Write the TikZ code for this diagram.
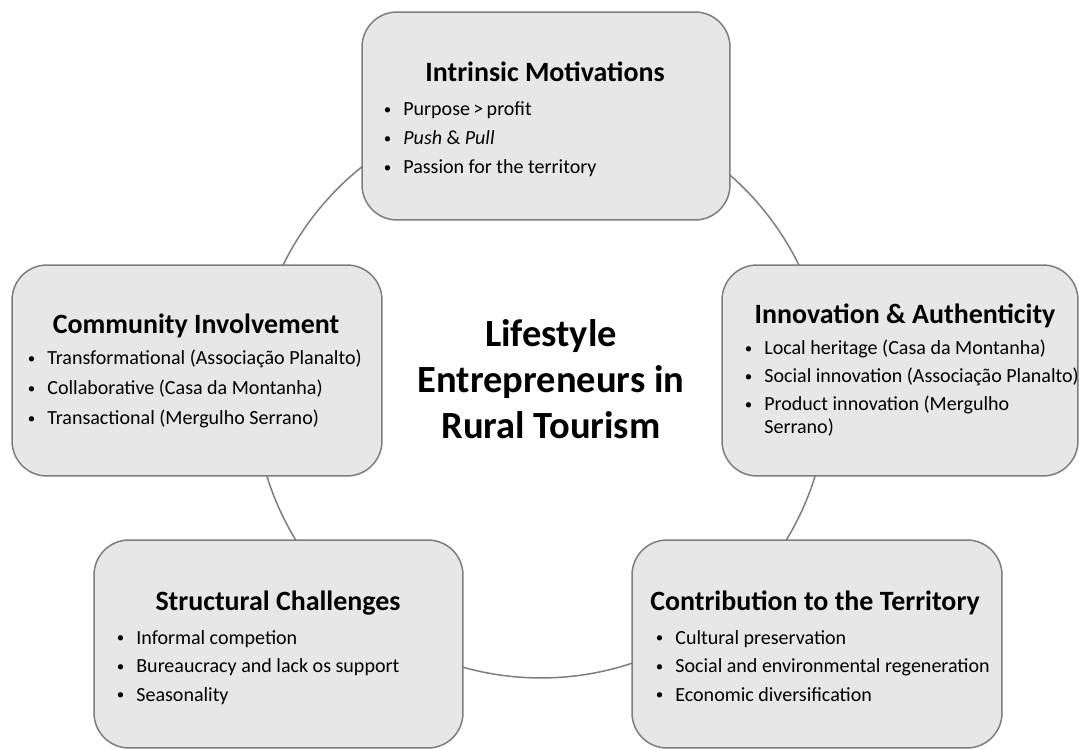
\documentclass[tikz,border=0pt]{standalone}
\usepackage{fontspec}
\setmainfont{Carlito}
\usetikzlibrary{positioning}

\definecolor{panelfill}{RGB}{231,231,231}
\definecolor{paneledge}{RGB}{125,125,125}

% small bullet set in front of each list line
\newcommand{\dotmark}{\llap{\raisebox{0.9pt}{\fontsize{8.5}{8.5}\selectfont\textbullet}\hspace{0.24cm}}}

\begin{document}
\begin{tikzpicture}[
  x=0.02cm, y=-0.02cm,    % 1 unit = 1 px, y downwards
  panel/.style={draw=paneledge, fill=panelfill, line width=0.85pt,
                rounded corners=0.7cm, inner sep=0pt},
  heading/.style={anchor=base, inner sep=0pt, font=\fontsize{15.9}{19}\selectfont\bfseries},
  item/.style={anchor=base west, inner sep=0pt, font=\fontsize{11.4}{13.5}\selectfont},
  hub/.style={align=center, inner sep=0pt, font=\fontsize{21.9}{26.2}\selectfont\bfseries}
  ]
  \useasboundingbox (0,0) rectangle (1079,749);

  % --- ring behind the boxes ---
  \coordinate (ring) at (541,391);
  \draw[paneledge, line width=0.85pt] (ring) circle[radius=5.74cm];

  % --- centre ---
  \node[hub] (core) at (551,379) {Lifestyle\\Entrepreneurs in\\Rural Tourism};

  % --- top: motivations ---
  \node[panel, minimum width=7.36cm, minimum height=4.16cm] (motiv) at (546,116) {};
  \node[heading] (motiv-t) at (545,82) {Intrinsic Motivations};
  \foreach \txt [count=\i] in {Purpose\,>\,profit, {\itshape Push} \& {\itshape Pull}, Passion for the territory}
    \node[item] (motiv-\i) at (403,87+29*\i) {\dotmark\txt};

  % --- left: community ---
  \node[panel, minimum width=7.40cm, minimum height=4.22cm] (commun) at (197,370.5) {};
  \node[heading] (commun-t) at (196,334) {Community Involvement};
  \foreach \txt [count=\i] in {Transformational (Associação Planalto), Collaborative (Casa da Montanha), Transactional (Mergulho Serrano)}
    \node[item] (commun-\i) at (47,335+30*\i) {\dotmark\txt};

  % --- right: innovation ---
  \node[panel, minimum width=7.12cm, minimum height=4.22cm] (innov) at (900,370.5) {};
  \node[heading] (innov-t) at (905,324) {Innovation \& Authenticity};
  \foreach \txt [count=\i] in {Local heritage (Casa da Montanha), Social innovation (Associação Planalto), Product innovation (Mergulho}
    \node[item] (innov-\i) at (764,327+28*\i) {\dotmark\txt};
  \node[item] (innov-w) at (764,434) {Serrano)};

  % --- bottom left: challenges ---
  \node[panel, minimum width=7.38cm, minimum height=4.16cm] (struct) at (278.5,644) {};
  \node[heading] (struct-t) at (278,611) {Structural Challenges};
  \foreach \txt [count=\i] in {Informal competion, Bureaucracy and lack os support, Seasonality}
    \node[item] (struct-\i) at (136,616+28.5*\i) {\dotmark\txt};

  % --- bottom right: contribution ---
  \node[panel, minimum width=7.40cm, minimum height=4.16cm] (contrib) at (817,644) {};
  \node[heading] (contrib-t) at (815,611) {Contribution to the Territory};
  \foreach \txt [count=\i] in {Cultural preservation, Social and environmental regeneration, Economic diversification}
    \node[item] (contrib-\i) at (675,616+28.5*\i) {\dotmark\txt};

\end{tikzpicture}
\end{document}
